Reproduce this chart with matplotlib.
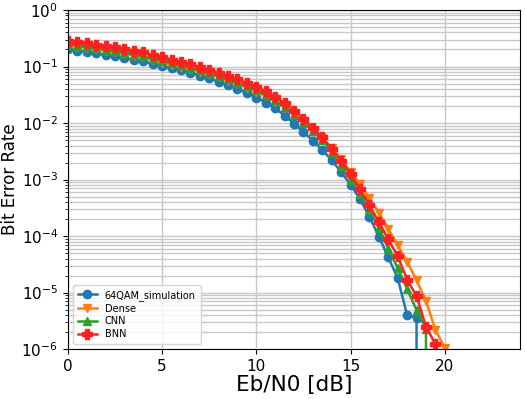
import numpy as np
import matplotlib
matplotlib.use("Agg")
import matplotlib.pyplot as plt

# Eb/N0 steps (dB)
ebn0 = [0, 0.5, 1, 1.5, 2, 2.5, 3, 3.5, 4, 4.5, 5, 5.5, 6, 6.5, 7, 7.5, 8, 8.5, 9, 9.5,
        10, 10.5, 11, 11.5, 12, 12.5, 13, 13.5, 14, 14.5, 15, 15.5, 16, 16.5, 17, 17.5,
        18, 18.5, 19, 19.5, 20]

ber_sim = [0.200, 0.191, 0.180, 0.170, 0.160, 0.151, 0.141, 0.132, 0.123, 0.112,
           0.102, 0.0933, 0.0851, 0.0776, 0.0692, 0.0617, 0.0537, 0.0468, 0.0398, 0.0339,
           0.0282, 0.0229, 0.0182, 0.0135, 0.0098, 0.0069, 0.0049, 0.0033, 0.0022, 0.00135,
           8.1e-4, 4.5e-4, 2.2e-4, 9.8e-5, 4.2e-5, 1.8e-5, 4.0e-6, 3.6e-6, 0, 0, 0]

ber_dense = [0.234, 0.224, 0.211, 0.200, 0.188, 0.178, 0.166, 0.155, 0.145, 0.129,
             0.117, 0.107, 0.0977, 0.0891, 0.0813, 0.0724, 0.0646, 0.0562, 0.0490, 0.0417,
             0.0355, 0.0295, 0.0240, 0.0186, 0.0141, 0.0105, 0.0076, 0.0054, 0.0036, 0.0023,
             0.00138, 8.3e-4, 4.7e-4, 2.6e-4, 1.35e-4, 6.9e-5, 3.5e-5, 1.66e-5, 7.1e-6, 2.2e-6,
             1.05e-6]

ber_cnn = [0.245, 0.234, 0.221, 0.209, 0.197, 0.186, 0.174, 0.162, 0.151, 0.138,
           0.126, 0.115, 0.105, 0.0955, 0.0851, 0.0759, 0.0676, 0.0589, 0.0513, 0.0447,
           0.0380, 0.0316, 0.0251, 0.0191, 0.0141, 0.0102, 0.0072, 0.0050, 0.0030, 0.00174,
           9.8e-4, 5.6e-4, 2.9e-4, 1.38e-4, 6.0e-5, 2.7e-5, 1.17e-5, 4.9e-6, 2.3e-6, 0, 0]

ber_bnn = [0.282, 0.269, 0.257, 0.245, 0.232, 0.219, 0.204, 0.191, 0.178, 0.160,
           0.145, 0.132, 0.120, 0.110, 0.0977, 0.0871, 0.0776, 0.0676, 0.0589, 0.0513,
           0.0437, 0.0363, 0.0288, 0.0224, 0.0166, 0.0120, 0.0083, 0.0056, 0.0035, 0.00214,
           1.23e-3, 6.8e-4, 3.5e-4, 1.78e-4, 8.7e-5, 4.4e-5, 1.7e-5, 8.7e-6, 2.5e-6, 1.23e-6, 0]

fig = plt.figure(figsize=(5.26, 3.99), dpi=100)
ax = fig.add_axes([0.129, 0.125, 0.860, 0.850])

ax.semilogy(ebn0, ber_sim, marker='o', markersize=6, linewidth=1.8, label='64QAM_simulation')
ax.semilogy(ebn0, ber_dense, marker='v', markersize=6, linewidth=1.8, label='Dense')
ax.semilogy(ebn0, ber_cnn, marker='^', markersize=6, linewidth=1.8, label='CNN')
ax.semilogy(ebn0, ber_bnn, marker='P', markersize=6.5, linewidth=1.8, label='BNN', color='#ff2020')

ax.set_xlim(0, 24)
ax.set_ylim(1e-6, 1)
ax.set_xticks([0, 5, 10, 15, 20])
ax.grid(True, which='major', color='#c8c8c8', linewidth=1)
ax.grid(True, which='minor', axis='y', color='#c8c8c8', linewidth=1)
ax.tick_params(labelsize=11)

ax.set_xlabel('Eb/N0 [dB]', fontsize=15.5, labelpad=1)
ax.set_ylabel('Bit Error Rate', fontsize=12)
ax.yaxis.set_label_coords(-0.108, 0.5)
ax.legend(loc='lower left', fontsize=7, borderpad=0.5, labelspacing=0.3)

fig.savefig('out.png', dpi=100)
